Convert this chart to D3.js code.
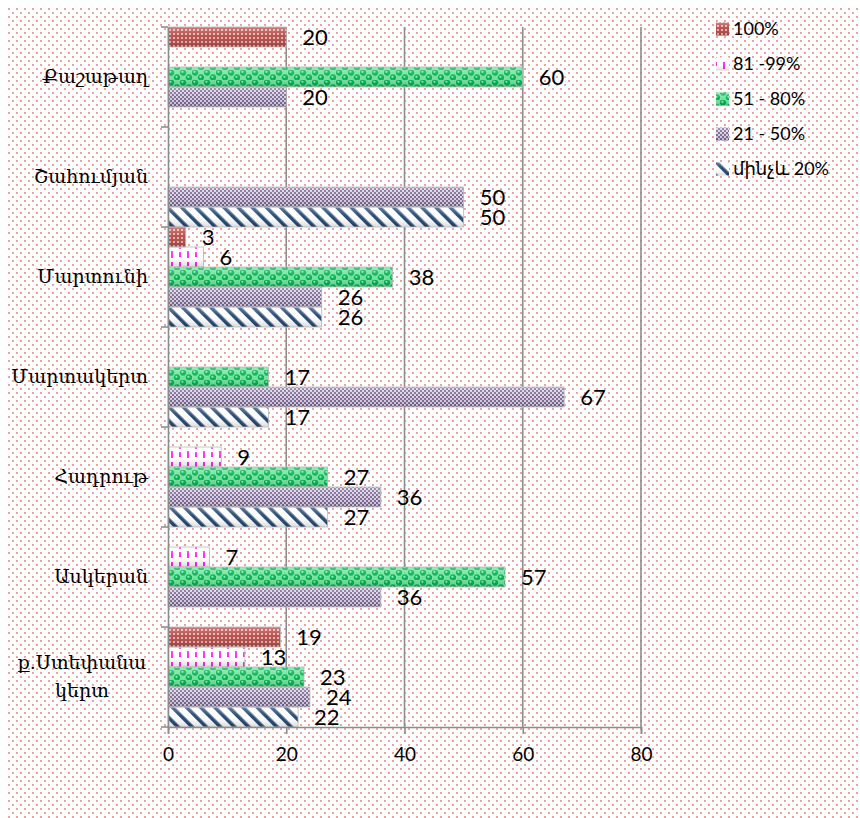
<!DOCTYPE html>
<html><head><meta charset="utf-8">
<script src="https://cdn.jsdelivr.net/npm/d3@7"></script>
<style>html,body{margin:0;padding:0;background:#fff;}svg{display:block;}</style>
</head><body>
<script>
const categories = ["Քաշաթաղ","Շահումյան","Մարտունի","Մարտակերտ","Հադրութ","Ասկերան","ք.Ստեփանակերտ"];
const seriesNames = ["100%","81 -99%","51 - 80%","21 - 50%","մինչև 20%"];
const s100 = [20, null, 3, null, null, null, 19];
const s81  = [null, null, 6, null, 9, 7, 13];
const s51  = [60, null, 38, 17, 27, 57, 23];
const s21  = [20, 50, 26, 67, 36, 36, 24];
const s20  = [null, 50, 26, 17, 27, null, 22];
const xTicks = [0, 20, 40, 60, 80];
const seriesValues = [s100, s81, s51, s21, s20];
const patternIds = ["p100","p81","p51","p21","p20"];

const W = 860, H = 818;
const svg = d3.select("body").append("svg").attr("width", W).attr("height", H);
const defs = svg.append("defs");

// background dot pattern
const bg = defs.append("pattern").attr("id","bgdots").attr("patternUnits","userSpaceOnUse")
  .attr("width",8).attr("height",8).attr("x",8).attr("y",8);
bg.append("rect").attr("x",0).attr("y",0).attr("width",2).attr("height",2).attr("fill","#e8a4a4");
bg.append("rect").attr("x",4).attr("y",4).attr("width",2).attr("height",2).attr("fill","#e8a4a4");

// 100% : red grid
const p1 = defs.append("pattern").attr("id","p100").attr("patternUnits","userSpaceOnUse").attr("width",4).attr("height",4);
p1.append("rect").attr("width",4).attr("height",4).attr("fill","#b24a47");
p1.append("rect").attr("x",1).attr("y",1).attr("width",2).attr("height",2).attr("fill","#eab0ab");
// 81-99% : magenta dashes
const p2 = defs.append("pattern").attr("id","p81").attr("patternUnits","userSpaceOnUse").attr("width",16).attr("height",20);
p2.append("rect").attr("width",16).attr("height",20).attr("fill","#ffffff");
p2.append("rect").attr("x",3).attr("y",2).attr("width",2).attr("height",7).attr("fill","#ff22ee");
p2.append("rect").attr("x",11).attr("y",11).attr("width",2).attr("height",7).attr("fill","#ff22ee");
p2.append("rect").attr("x",11).attr("y",2).attr("width",2).attr("height",4).attr("fill","#ff22ee");
p2.append("rect").attr("x",3).attr("y",12).attr("width",2).attr("height",5).attr("fill","#ff22ee");
// 51-80% : green spheres checker
const p3 = defs.append("pattern").attr("id","p51").attr("patternUnits","userSpaceOnUse").attr("width",12).attr("height",10);
p3.append("rect").attr("width",12).attr("height",10).attr("fill","#eafff1");
p3.append("rect").attr("x",6).attr("y",0).attr("width",6).attr("height",5).attr("fill","#70e39c");
p3.append("rect").attr("x",0).attr("y",5).attr("width",6).attr("height",5).attr("fill","#70e39c");
p3.append("circle").attr("cx",3).attr("cy",2.5).attr("r",3.2).attr("fill","#00b050");
p3.append("circle").attr("cx",9).attr("cy",7.5).attr("r",3.2).attr("fill","#00b050");
p3.append("circle").attr("cx",2.4).attr("cy",1.8).attr("r",1.1).attr("fill","#7ef0ae");
p3.append("circle").attr("cx",8.4).attr("cy",6.8).attr("r",1.1).attr("fill","#7ef0ae");
// 21-50% : purple fine checker
const p4 = defs.append("pattern").attr("id","p21").attr("patternUnits","userSpaceOnUse").attr("width",4).attr("height",4);
p4.append("rect").attr("width",4).attr("height",4).attr("fill","#7b6890");
p4.append("rect").attr("x",0).attr("y",0).attr("width",2).attr("height",2).attr("fill","#d9cfe6");
p4.append("rect").attr("x",2).attr("y",2).attr("width",2).attr("height",2).attr("fill","#d9cfe6");
// <20% : navy diagonal stripes
const p5 = defs.append("pattern").attr("id","p20").attr("patternUnits","userSpaceOnUse").attr("width",10).attr("height",10)
  .attr("patternTransform","rotate(-45)");
p5.append("rect").attr("width",10).attr("height",10).attr("fill","#ffffff");
p5.append("rect").attr("x",0).attr("y",0).attr("width",3.6).attr("height",10).attr("fill","#1f4470");

// shading overlay gradient
const g = defs.append("linearGradient").attr("id","shade").attr("x1",0).attr("y1",0).attr("x2",0).attr("y2",1);
g.append("stop").attr("offset","0%").attr("stop-color","#fff").attr("stop-opacity",0.3);
g.append("stop").attr("offset","45%").attr("stop-color","#fff").attr("stop-opacity",0.05);
g.append("stop").attr("offset","100%").attr("stop-color","#000").attr("stop-opacity",0.15);

// background
svg.append("rect").attr("x",7).attr("y",7).attr("width",W-7).attr("height",H-7).attr("fill","url(#bgdots)");

const x = d3.scaleLinear().domain([0,80]).range([168,641]);
const y = d3.scaleBand().domain(categories).range([27,727]).padding(0);
const ys = d3.scaleBand().domain(seriesNames).range([0, y.bandwidth()]).padding(0);

// gridlines
const grid = svg.append("g");
grid.selectAll("line").data(xTicks.slice(1)).join("line")
  .attr("x1",d=>x(d)).attr("x2",d=>x(d)).attr("y1",27).attr("y2",727)
  .attr("stroke","#8c8c8c").attr("stroke-width",1.6);

// bars
const rows = [];
seriesNames.forEach((s,si)=>{
  categories.forEach((c,ci)=>{
    const v = seriesValues[si][ci];
    if (v !== null && v !== undefined) rows.push({s, si, c, v});
  });
});
const bars = svg.append("g");
bars.selectAll("rect.bar").data(rows).join("rect").attr("class","bar")
  .attr("x", x(0)).attr("y", d=>y(d.c)+ys(d.s)).attr("width", d=>x(d.v)-x(0)).attr("height", ys.bandwidth())
  .attr("fill", d=>`url(#${patternIds[d.si]})`);
bars.selectAll("rect.sh").data(rows).join("rect").attr("class","sh")
  .attr("x", x(0)).attr("y", d=>y(d.c)+ys(d.s)).attr("width", d=>x(d.v)-x(0)).attr("height", ys.bandwidth())
  .attr("fill","url(#shade)").attr("stroke","#b8b8b8").attr("stroke-width",0.8);

// value labels
svg.append("g").selectAll("text").data(rows).join("text")
  .attr("x", d=>x(d.v)+16).attr("y", d=>y(d.c)+ys(d.s)+ys.bandwidth()/2+8)
  .attr("font-family","Lato, 'DejaVu Sans', sans-serif").attr("font-size",22).attr("fill","#000")
  .text(d=>d.v);

// axes
const xAxis = d3.axisBottom(x).tickValues(xTicks).tickSize(7).tickPadding(14).tickFormat(d3.format("d"));
const gx = svg.append("g").attr("transform","translate(0,727)").call(xAxis);
gx.select(".domain").attr("stroke","#8c8c8c").attr("stroke-width",1.6);
gx.selectAll(".tick line").attr("stroke","#8c8c8c").attr("stroke-width",1.6);
gx.selectAll(".tick text").attr("font-family","Lato, 'DejaVu Sans', sans-serif").attr("font-size",19).attr("fill","#000");

const yAxis = d3.axisLeft(y).tickSize(0).tickFormat("");
const gy = svg.append("g").attr("transform","translate(168,0)").call(yAxis);
gy.select(".domain").attr("stroke","#8c8c8c").attr("stroke-width",1.6);
// boundary ticks
const bounds = categories.map(c=>y(c)).concat([y.range()[1]]);
svg.append("g").selectAll("line").data(bounds).join("line")
  .attr("x1",161).attr("x2",168).attr("y1",d=>d).attr("y2",d=>d)
  .attr("stroke","#8c8c8c").attr("stroke-width",1.6);

// category labels
const catG = svg.append("g").attr("font-family","'DejaVu Serif', serif").attr("font-size",19).attr("fill","#000");
categories.forEach(c=>{
  const cy = y(c)+y.bandwidth()/2;
  if (c === "ք.Ստեփանակերտ") {
    catG.append("text").attr("x",82).attr("y",cy-8).attr("text-anchor","middle").text("ք.Ստեփանա");
    catG.append("text").attr("x",82).attr("y",cy+20).attr("text-anchor","middle").text("կերտ");
  } else {
    catG.append("text").attr("x",148).attr("y",cy+6).attr("text-anchor","end").text(c);
  }
});

// legend
const lg = svg.append("g");
seriesNames.forEach((s,i)=>{
  const ly = 29 + i*35;
  lg.append("rect").attr("x",716).attr("y",ly-6.5).attr("width",13).attr("height",13).attr("fill",`url(#${patternIds[i]})`);
  lg.append("rect").attr("x",716).attr("y",ly-6.5).attr("width",13).attr("height",13).attr("fill","url(#shade)");
  lg.append("text").attr("x",733).attr("y",ly+6).attr("font-family","Lato, 'DejaVu Sans', sans-serif")
    .attr("font-size",18).attr("fill","#000").text(s);
});
</script>
</body></html>
